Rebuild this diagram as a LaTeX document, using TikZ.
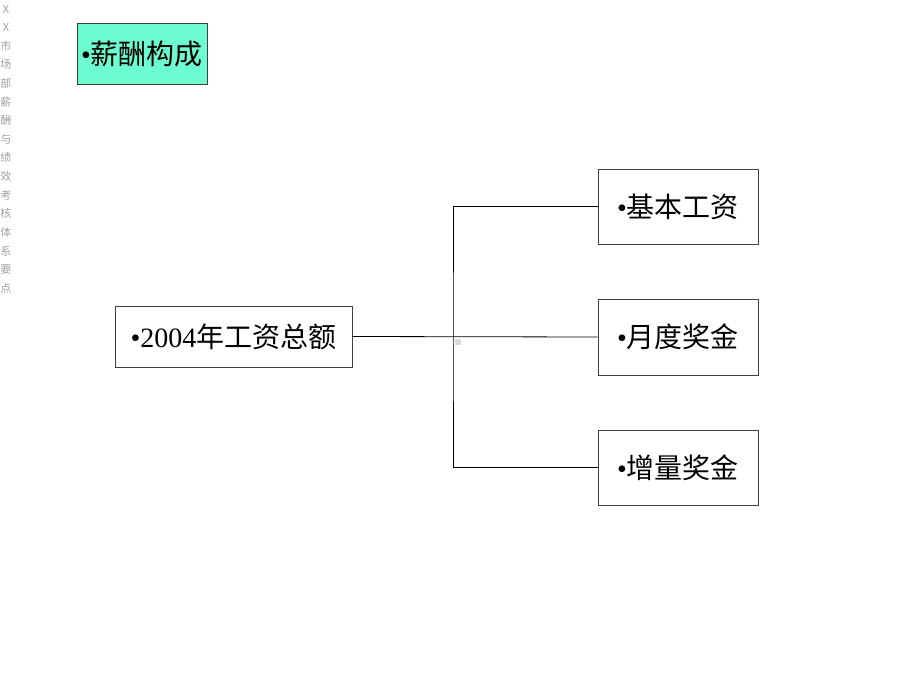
\documentclass[tikz,border=0pt]{standalone}
\usepackage{fontspec}
\setmainfont{Liberation Serif}
\newfontfamily\cjk{Noto Sans CJK SC}
\definecolor{titlefill}{HTML}{6CFCCF}
\definecolor{sidegray}{HTML}{A0A0A0}
\begin{document}
\begin{tikzpicture}[x=1pt,y=-1pt,
  box/.style={draw=black!75, line width=0.8pt, inner sep=0pt, font=\fontsize{28}{30}\selectfont},
  wire/.style={draw=black, line width=0.8pt},
  side/.style={text=sidegray, font=\cjk\fontsize{11}{12}\selectfont, inner sep=0pt}]
\useasboundingbox (0,0) rectangle (920,690);
\foreach \c [count=\i from 0] in {X,X,市,场,部,薪,酬,与,绩,效,考,核,体,系,要,点}
  \node[side] (s\i) at (6,{9+\i*18.6}) {\c};
\node[box, fill=titlefill, minimum width=130pt, minimum height=61pt] (title) at (142,53.5) {\textbullet{\cjk 薪酬构成}};
\node[box, minimum width=237pt, minimum height=61pt] (total) at (233.5,336.5) {\textbullet 2004{\cjk 年工资总额}};
\node[box, minimum width=160pt, minimum height=75pt] (b1) at (678,206.5) {\textbullet{\cjk 基本工资}};
\node[box, minimum width=160pt, minimum height=76pt] (b2) at (678,337) {\textbullet{\cjk 月度奖金}};
\node[box, minimum width=160pt, minimum height=75pt] (b3) at (678,467.5) {\textbullet{\cjk 增量奖金}};
\coordinate (j) at (453,337);
\draw[wire] (total.east) -- (b2.west);
\draw[wire] (b1.west) -| (j) |- (b3.west);
\fill[black!15] (455,339) rectangle (461,345);
\end{tikzpicture}
\end{document}
